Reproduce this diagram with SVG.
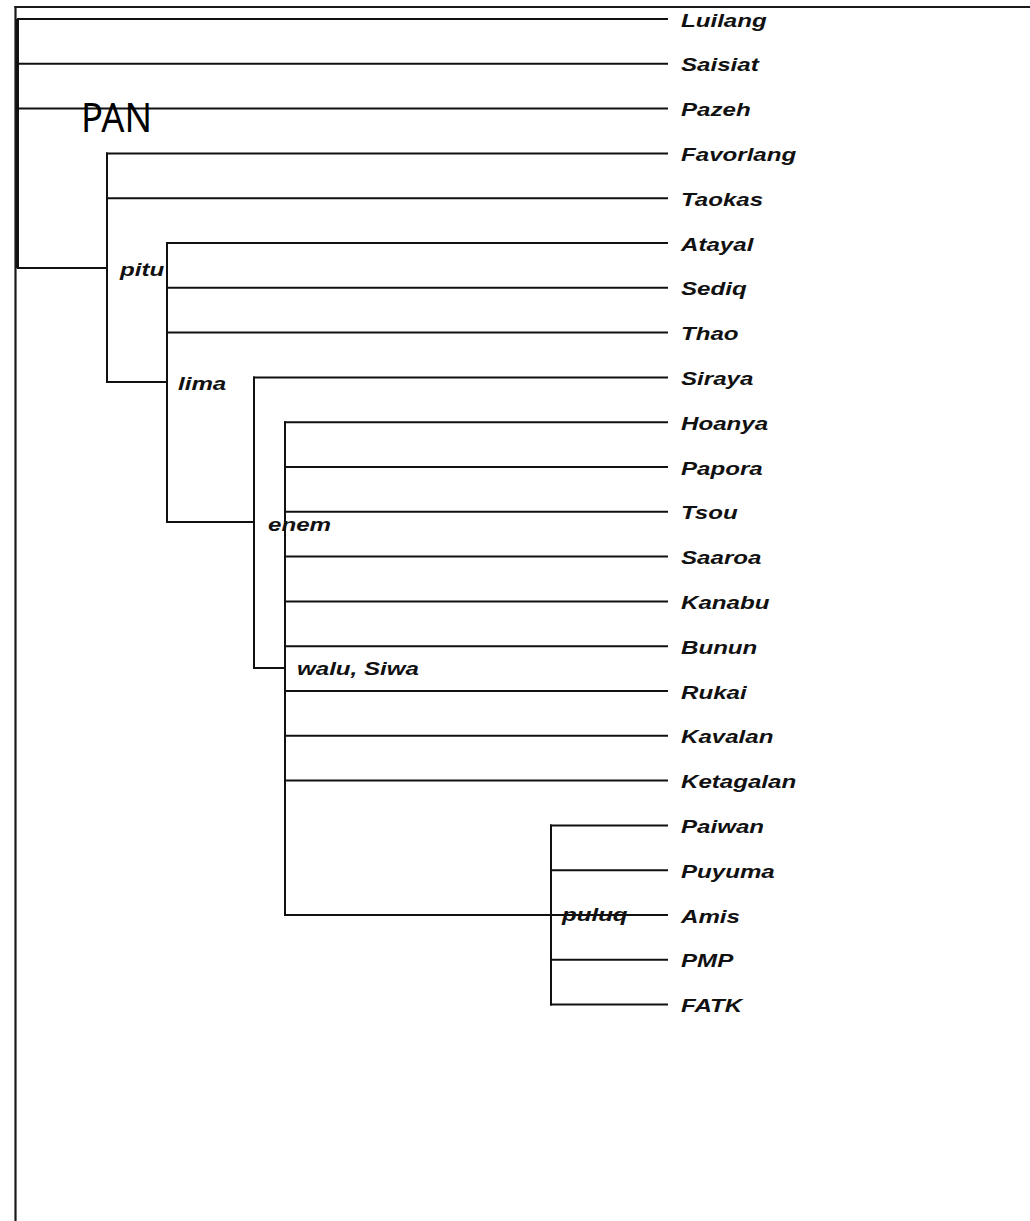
<svg xmlns="http://www.w3.org/2000/svg" width="1030" height="1221" viewBox="0 0 1030 1221">
<style>
.f{stroke:#1a1a1a;stroke-width:2.2;fill:none}
.e{stroke:#111;stroke-width:2;fill:none;stroke-linecap:square}
.r{stroke:#111;stroke-width:3;fill:none}
.l{font-family:"Liberation Sans",Arial,sans-serif;font-size:18px;font-weight:bold;font-style:italic;fill:#111}
.pan{font-family:"Noto Sans","Open Sans",sans-serif;font-size:40px;fill:#000}
</style>
<rect width="1030" height="1221" fill="#fff"/>
<g id="frame">
<line class="f" x1="14.5" y1="7" x2="1030" y2="7"/>
<line class="f" x1="15.5" y1="6" x2="15.5" y2="1221"/>
</g>
<g id="connectors">
<line class="r" x1="17.5" y1="19" x2="17.5" y2="268"/>
<line class="e" x1="18" y1="19" x2="667" y2="19"/>
<line class="e" x1="18" y1="63.8" x2="667" y2="63.8"/>
<line class="e" x1="18" y1="108.6" x2="667" y2="108.6"/>
<line class="e" x1="18" y1="268" x2="107" y2="268"/>
<line class="e" x1="107" y1="153.4" x2="107" y2="382"/>
<line class="e" x1="107" y1="153.4" x2="667" y2="153.4"/>
<line class="e" x1="107" y1="198.2" x2="667" y2="198.2"/>
<line class="e" x1="107" y1="382" x2="167" y2="382"/>
<line class="e" x1="167" y1="243" x2="167" y2="522"/>
<line class="e" x1="167" y1="243" x2="667" y2="243"/>
<line class="e" x1="167" y1="287.8" x2="667" y2="287.8"/>
<line class="e" x1="167" y1="332.6" x2="667" y2="332.6"/>
<line class="e" x1="167" y1="522" x2="254" y2="522"/>
<line class="e" x1="254" y1="377.4" x2="254" y2="668"/>
<line class="e" x1="254" y1="377.4" x2="667" y2="377.4"/>
<line class="e" x1="254" y1="668" x2="285" y2="668"/>
<line class="e" x1="285" y1="422.2" x2="285" y2="915"/>
<line class="e" x1="285" y1="422.2" x2="667" y2="422.2"/>
<line class="e" x1="285" y1="467" x2="667" y2="467"/>
<line class="e" x1="285" y1="511.8" x2="667" y2="511.8"/>
<line class="e" x1="285" y1="556.6" x2="667" y2="556.6"/>
<line class="e" x1="285" y1="601.4" x2="667" y2="601.4"/>
<line class="e" x1="285" y1="646.2" x2="667" y2="646.2"/>
<line class="e" x1="285" y1="691" x2="667" y2="691"/>
<line class="e" x1="285" y1="735.8" x2="667" y2="735.8"/>
<line class="e" x1="285" y1="780.6" x2="667" y2="780.6"/>
<line class="e" x1="285" y1="915" x2="667" y2="915"/>
<line class="e" x1="551" y1="825.4" x2="551" y2="1004.6"/>
<line class="e" x1="551" y1="825.4" x2="667" y2="825.4"/>
<line class="e" x1="551" y1="870.2" x2="667" y2="870.2"/>
<line class="e" x1="551" y1="959.8" x2="667" y2="959.8"/>
<line class="e" x1="551" y1="1004.6" x2="667" y2="1004.6"/>
</g>
<g id="internal-labels">
<text id="n-pan" class="pan" x="81" y="132" textLength="71" lengthAdjust="spacingAndGlyphs">PAN</text>
<text id="n-pitu" class="l" transform="translate(120,276) scale(1.34,1)">pitu</text>
<text id="n-lima" class="l" transform="translate(178,390) scale(1.34,1)">lima</text>
<text id="n-enem" class="l" transform="translate(268,531) scale(1.34,1)">enem</text>
<text id="n-walu" class="l" transform="translate(297,675) scale(1.34,1)">walu, Siwa</text>
<text id="n-puluq" class="l" transform="translate(562,921) scale(1.34,1)">puluq</text>
</g>
<g id="leaves">
<g id="Luilang"><text class="l" transform="translate(681,26.5) scale(1.34,1)">Luilang</text></g>
<g id="Saisiat"><text class="l" transform="translate(681,71.3) scale(1.34,1)">Saisiat</text></g>
<g id="Pazeh"><text class="l" transform="translate(681,116.1) scale(1.34,1)">Pazeh</text></g>
<g id="Favorlang"><text class="l" transform="translate(681,160.9) scale(1.34,1)">Favorlang</text></g>
<g id="Taokas"><text class="l" transform="translate(681,205.7) scale(1.34,1)">Taokas</text></g>
<g id="Atayal"><text class="l" transform="translate(681,250.5) scale(1.34,1)">Atayal</text></g>
<g id="Sediq"><text class="l" transform="translate(681,295.3) scale(1.34,1)">Sediq</text></g>
<g id="Thao"><text class="l" transform="translate(681,340.1) scale(1.34,1)">Thao</text></g>
<g id="Siraya"><text class="l" transform="translate(681,384.9) scale(1.34,1)">Siraya</text></g>
<g id="Hoanya"><text class="l" transform="translate(681,429.7) scale(1.34,1)">Hoanya</text></g>
<g id="Papora"><text class="l" transform="translate(681,474.5) scale(1.34,1)">Papora</text></g>
<g id="Tsou"><text class="l" transform="translate(681,519.3) scale(1.34,1)">Tsou</text></g>
<g id="Saaroa"><text class="l" transform="translate(681,564.1) scale(1.34,1)">Saaroa</text></g>
<g id="Kanabu"><text class="l" transform="translate(681,608.9) scale(1.34,1)">Kanabu</text></g>
<g id="Bunun"><text class="l" transform="translate(681,653.7) scale(1.34,1)">Bunun</text></g>
<g id="Rukai"><text class="l" transform="translate(681,698.5) scale(1.34,1)">Rukai</text></g>
<g id="Kavalan"><text class="l" transform="translate(681,743.3) scale(1.34,1)">Kavalan</text></g>
<g id="Ketagalan"><text class="l" transform="translate(681,788.1) scale(1.34,1)">Ketagalan</text></g>
<g id="Paiwan"><text class="l" transform="translate(681,832.9) scale(1.34,1)">Paiwan</text></g>
<g id="Puyuma"><text class="l" transform="translate(681,877.7) scale(1.34,1)">Puyuma</text></g>
<g id="Amis"><text class="l" transform="translate(681,922.5) scale(1.34,1)">Amis</text></g>
<g id="PMP"><text class="l" transform="translate(681,967.3) scale(1.34,1)">PMP</text></g>
<g id="FATK"><text class="l" transform="translate(681,1012.1) scale(1.34,1)">FATK</text></g>
</g>
</svg>
